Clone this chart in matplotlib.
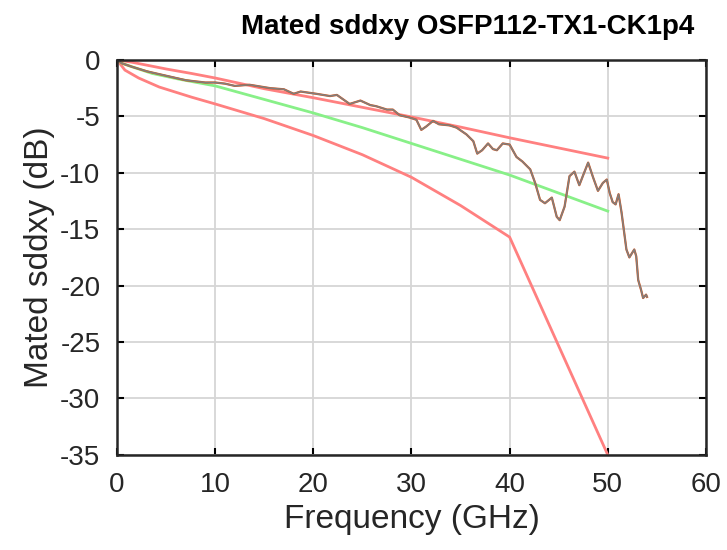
import numpy as np
import matplotlib
matplotlib.use("Agg")
import matplotlib.pyplot as plt

plt.rcParams['font.family'] = ['Liberation Sans', 'DejaVu Sans']
plt.rcParams['axes.unicode_minus'] = False

# Limit lines (GHz, dB)
upper_f = [0, 1.5, 5, 7.6, 10, 15, 20, 25, 30, 35, 40, 45, 50]
upper_db = [0, -0.2, -0.8, -1.2, -1.6, -2.55, -3.35, -4.2, -5.05, -5.95, -6.9, -7.8, -8.7]

lower_f = [0, 0.8, 2.2, 4.3, 7.6, 10, 15, 20, 25, 30, 35, 40, 50]
lower_db = [0, -0.9, -1.6, -2.4, -3.3, -3.9, -5.2, -6.7, -8.4, -10.4, -12.9, -15.7, -35]

green_f = [0, 0.5, 1.5, 3.6, 6.3, 10, 15, 20, 25, 30, 35, 40, 45, 50]
green_db = [0, -0.3, -0.6, -1.2, -1.7, -2.3, -3.5, -4.7, -6.0, -7.4, -8.8, -10.2, -11.8, -13.4]

# Measured trace
meas_f = [0, 0.5, 1.5, 3, 5, 7, 8, 9, 10, 11, 12, 13.5, 15.6, 17, 18, 18.7, 20.3,
          21.7, 22.4, 23.7, 24.8, 25.8, 26.4, 27.5, 28.1, 28.8, 29.8, 30.5, 31,
          31.5, 32.2, 32.8, 33.9, 34.6, 35.6, 36.3, 36.7, 37.2, 37.8, 38.3, 38.7,
          39.3, 40, 40.7, 41.3, 42.1, 42.6, 43.1, 43.6, 44.3, 44.8, 45.1, 45.6,
          46.1, 46.6, 47.1, 47.5, 48.0, 48.5, 49.0, 49.5, 49.9, 50.2, 50.5, 50.8,
          51.1, 51.4, 51.9, 52.2, 52.7, 52.9, 53.1, 53.4, 53.6, 53.9, 54.0]
meas_db = [0, -0.3, -0.6, -1.0, -1.4, -1.8, -1.9, -2.0, -2.0, -2.1, -2.3, -2.2,
           -2.5, -2.6, -3.0, -2.8, -3.0, -3.2, -3.1, -3.9, -3.6, -4.0, -4.1, -4.4,
           -4.4, -4.9, -5.1, -5.3, -6.2, -5.9, -5.4, -5.7, -5.8, -6.0, -6.6, -7.2,
           -8.3, -8.0, -7.4, -7.9, -8.0, -7.4, -7.5, -8.6, -9.0, -9.7, -10.9,
           -12.4, -12.7, -12.2, -13.9, -14.2, -13.0, -10.3, -9.9, -11.1, -10.2,
           -9.1, -10.4, -11.6, -10.9, -10.6, -11.8, -12.6, -12.8, -11.9, -13.5,
           -16.8, -17.5, -16.8, -17.4, -19.5, -20.4, -21.1, -20.8, -21.0]

fig = plt.figure(figsize=(7.27, 5.5), dpi=100)
ax = fig.add_axes([0.161, 0.173, 0.810, 0.718])

ax.plot(upper_f, upper_db, color='#ff8080', lw=2)
ax.plot(lower_f, lower_db, color='#ff8080', lw=2)
ax.plot(green_f, green_db, color='#88f088', lw=2)
ax.plot(meas_f, meas_db, color='#d9541a', lw=1.6)
ax.plot(meas_f, meas_db, color='#7f7f7f', lw=1.1)

ax.set_xlim(0, 60)
ax.set_ylim(-35, 0)
ax.set_xticks(np.arange(0, 61, 10))
ax.set_yticks(np.arange(-35, 1, 5))
ax.grid(True, color='#d6d6d6', lw=1.3)
ax.set_axisbelow(True)
ax.tick_params(direction='in', top=True, right=True, length=5, width=1.5,
               labelsize=20, pad=12, labelcolor='#262626')
for s in ax.spines.values():
    s.set_linewidth(1.8)
    s.set_color('#262626')

ax.set_xlabel('Frequency (GHz)', fontsize=24, color='#262626', labelpad=5)
ax.set_ylabel('Mated sddxy (dB)', fontsize=24, color='#262626', labelpad=4)
ax.set_title('Mated sddxy OSFP112-TX1-CK1p4', fontsize=20, fontweight='bold',
             x=0.596, pad=19)

fig.savefig('out.png', dpi=100)
